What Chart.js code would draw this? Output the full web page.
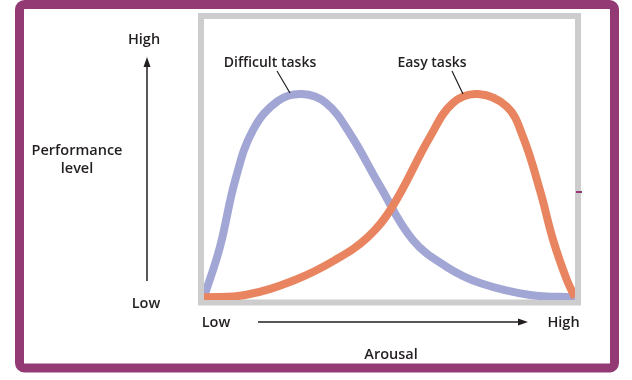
<!DOCTYPE html>
<html>
<head>
<meta charset="utf-8">
<script src="https://cdn.jsdelivr.net/npm/chart.js@4/dist/chart.umd.min.js"></script>
<style>
  body { margin: 0; background: #ffffff; }
  #wrap { width: 632px; height: 380px; }
</style>
</head>
<body>
<div id="wrap"><canvas id="myChart" width="632" height="380"></canvas></div>
<script>
// arousal (0 = low, 100 = high) and performance
var difficultX = [0, 4.3, 8.4, 13.2, 19.9, 26.4, 32.9, 39.4, 47.4, 56.3, 65.5, 74.4, 87.9, 100];
var difficultY = [0, 18.0, 41.9, 59.9, 70.3, 72.8, 69.6, 58.5, 39.9, 20.5, 10.8, 5.1, 0.8, 0];
var easyX = [0, 11.1, 24.5, 35.3, 44.2, 50.7, 60.9, 67.1, 73.9, 81.7, 86.0, 90.6, 94.1, 97.8, 100];
var easyY = [0, 0.8, 6.2, 13.3, 21.6, 32.3, 57.4, 69.6, 72.8, 68.2, 57.4, 38.1, 20.5, 6.2, 0];

var seriesNames = ["Difficult tasks", "Easy tasks"];
var seriesColors = ["#a2a6d4", "#e8845f"];
var yTickLabels = ["Low", "High"];
var xTickLabels = ["Low", "High"];
var yTitle = ["Performance", "level"];
var xTitle = "Arousal";

function toPoints(xs, ys) {
  var pts = [];
  for (var i = 0; i < xs.length; i++) {
    pts.push({ x: xs[i], y: ys[i] });
  }
  return pts;
}

function arrow(ctx, x1, y1, x2, y2) {
  var a = Math.atan2(y2 - y1, x2 - x1);
  ctx.beginPath();
  ctx.moveTo(x1, y1);
  ctx.lineTo(x2 - 6 * Math.cos(a), y2 - 6 * Math.sin(a));
  ctx.stroke();
  ctx.beginPath();
  ctx.moveTo(x2, y2);
  ctx.lineTo(x2 - 10 * Math.cos(a) + 3.5 * Math.sin(a), y2 - 10 * Math.sin(a) - 3.5 * Math.cos(a));
  ctx.lineTo(x2 - 10 * Math.cos(a) - 3.5 * Math.sin(a), y2 - 10 * Math.sin(a) + 3.5 * Math.cos(a));
  ctx.closePath();
  ctx.fill();
}

var framePlugin = {
  id: 'frame',
  beforeDatasetsDraw: function (chart) {
    var ctx = chart.ctx;
    ctx.save();
    // purple outer frame
    ctx.strokeStyle = '#933a74';
    ctx.lineWidth = 9;
    ctx.beginPath();
    ctx.roundRect(19.5, 4.5, 595, 363.5, 5);
    ctx.stroke();
    // grey plot box
    ctx.strokeStyle = '#cdcdcd';
    ctx.lineWidth = 6;
    ctx.strokeRect(201, 16, 377, 286.5);
    ctx.restore();
  },
  afterDraw: function (chart) {
    var ctx = chart.ctx;
    ctx.save();
    ctx.fillStyle = '#231f20';
    ctx.strokeStyle = '#231f20';
    ctx.font = '600 14.5px "Open Sans"';
    ctx.textAlign = 'center';
    ctx.textBaseline = 'alphabetic';

    ctx.fillText(yTickLabels[1], 144, 44);
    ctx.fillText(yTitle[0], 77, 155);
    ctx.fillText(yTitle[1], 77, 173);
    ctx.fillText(yTickLabels[0], 146, 308);

    ctx.fillText(xTickLabels[0], 216, 327);
    ctx.fillText(xTickLabels[1], 563.5, 327);
    ctx.fillText(xTitle, 391, 359);

    ctx.font = '600 14px "Open Sans"';
    ctx.fillText(seriesNames[0], 270, 67);
    ctx.fillText(seriesNames[1], 432, 67);

    ctx.lineWidth = 1.5;
    arrow(ctx, 147, 281, 147, 57);
    arrow(ctx, 258, 322, 528, 322);

    ctx.lineWidth = 1.2;
    ctx.beginPath();
    ctx.moveTo(277, 71);
    ctx.lineTo(290, 93);
    ctx.moveTo(452, 71);
    ctx.lineTo(463, 94);
    ctx.stroke();

    // small purple mark on right edge
    ctx.fillStyle = '#933a74';
    ctx.fillRect(576, 191, 6, 2);
    ctx.restore();
  }
};

var ctx = document.getElementById("myChart").getContext('2d');
var myChart = new Chart(ctx, {
  type: 'line',
  data: {
    datasets: [{
      label: seriesNames[0],
      data: toPoints(difficultX, difficultY),
      borderColor: seriesColors[0],
      order: 2
    }, {
      label: seriesNames[1],
      data: toPoints(easyX, easyY),
      borderColor: seriesColors[1],
      order: 1
    }]
  },
  options: {
    responsive: false,
    animation: false,
    events: [],
    layout: { padding: { left: 204, right: 57, top: 21, bottom: 80 } },
    elements: {
      point: { radius: 0 },
      line: { borderWidth: 8, tension: 0.4, fill: false }
    },
    plugins: { legend: { display: false }, tooltip: { enabled: false } },
    scales: {
      x: { type: 'linear', min: 0, max: 100, display: false },
      y: { min: -1, max: 99, display: false }
    }
  },
  plugins: [framePlugin]
});
</script>
</body>
</html>
